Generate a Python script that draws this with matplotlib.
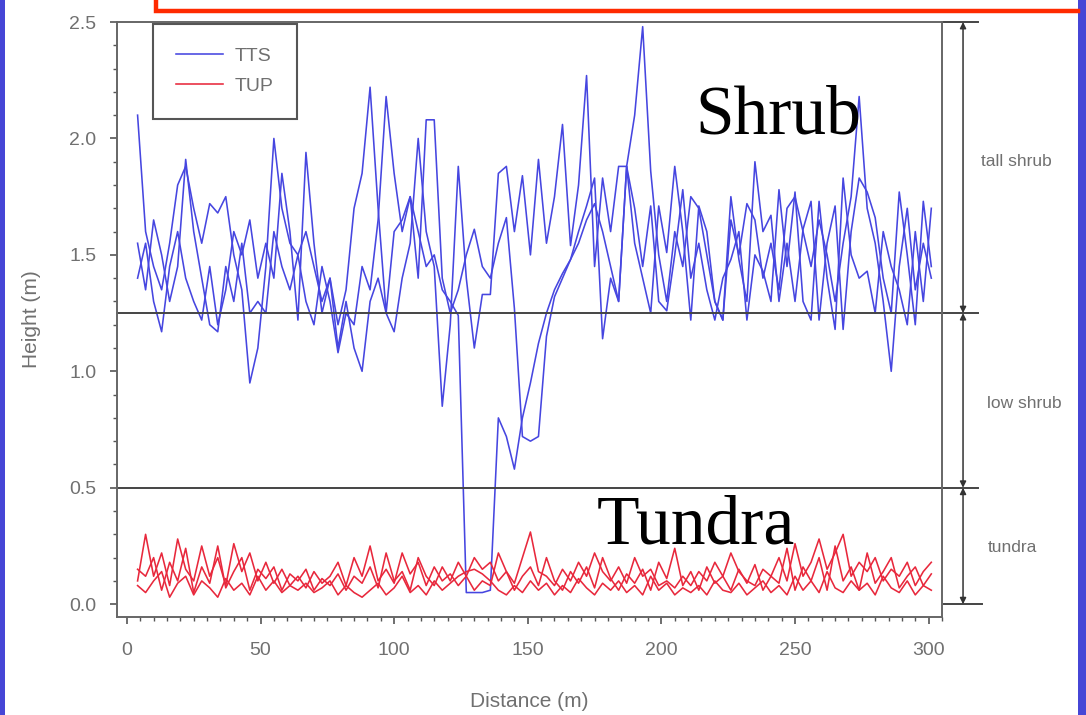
import numpy as np
import matplotlib
matplotlib.use("Agg")
import matplotlib.pyplot as plt
from matplotlib.lines import Line2D
from matplotlib.ticker import MultipleLocator
import matplotlib.transforms as mtransforms

# Sampling positions along the transects (m)
distance = np.arange(4, 302, 3)

# Tall-shrub transects (TTS), canopy height in m
tts_1 = [
    2.10, 1.60, 1.45, 1.35, 1.55, 1.80, 1.88, 1.70, 1.55, 1.72,
    1.68, 1.75, 1.50, 1.35, 0.95, 1.10, 1.45, 2.00, 1.70, 1.55,
    1.50, 1.60, 1.45, 1.30, 1.40, 1.20, 1.35, 1.70, 1.85, 2.22,
    1.70, 1.25, 1.60, 1.65, 1.75, 1.60, 1.45, 1.50, 1.35, 1.30,
    1.24, 0.05, 0.05, 0.05, 0.06, 0.80, 0.72, 0.58, 0.80, 0.95,
    1.12, 1.25, 1.35, 1.42, 1.48, 1.55, 1.65, 1.72, 1.60, 1.45,
    1.30, 1.88, 2.10, 2.48, 1.86, 1.50, 1.30, 1.60, 1.45, 1.75,
    1.70, 1.50, 1.30, 1.22, 1.65, 1.50, 1.72, 1.65, 1.40, 1.55,
    1.35, 1.70, 1.75, 1.60, 1.45, 1.65, 1.50, 1.30, 1.55, 1.75,
    2.18, 1.70, 1.55, 1.30, 1.00, 1.45, 1.70, 1.35, 1.55, 1.40,
]
tts_2 = [
    1.40, 1.55, 1.30, 1.17, 1.45, 1.60, 1.40, 1.30, 1.22, 1.45,
    1.20, 1.35, 1.60, 1.50, 1.65, 1.40, 1.55, 1.40, 1.85, 1.60,
    1.22, 1.94, 1.55, 1.25, 1.40, 1.10, 1.30, 1.10, 1.00, 1.30,
    1.40, 1.25, 1.17, 1.40, 1.55, 2.00, 1.60, 1.45, 0.85, 1.20,
    1.88, 1.40, 1.10, 1.33, 1.33, 1.85, 1.88, 1.60, 1.84, 1.50,
    1.91, 1.55, 1.75, 2.06, 1.54, 1.80, 2.27, 1.45, 1.83, 1.60,
    1.88, 1.88, 1.55, 1.40, 1.25, 1.71, 1.51, 1.88, 1.60, 1.22,
    1.71, 1.60, 1.30, 1.22, 1.75, 1.48, 1.30, 1.90, 1.60, 1.67,
    1.30, 1.55, 1.30, 1.61, 1.73, 1.22, 1.55, 1.71, 1.18, 1.60,
    1.83, 1.77, 1.66, 1.40, 1.25, 1.77, 1.50, 1.20, 1.73, 1.45,
]
tts_3 = [
    1.55, 1.35, 1.65, 1.50, 1.30, 1.45, 1.91, 1.60, 1.40, 1.20,
    1.17, 1.45, 1.30, 1.55, 1.25, 1.30, 1.25, 1.60, 1.45, 1.35,
    1.50, 1.30, 1.20, 1.45, 1.30, 1.08, 1.25, 1.20, 1.45, 1.35,
    1.65, 2.18, 1.85, 1.60, 1.75, 1.40, 2.08, 2.08, 1.40, 1.25,
    1.35, 1.50, 1.61, 1.45, 1.40, 1.55, 1.66, 1.27, 0.72, 0.70,
    0.72, 1.15, 1.32, 1.40, 1.48, 1.60, 1.71, 1.83, 1.14, 1.40,
    1.30, 1.88, 1.70, 1.45, 1.71, 1.30, 1.26, 1.50, 1.78, 1.40,
    1.55, 1.35, 1.22, 1.40, 1.48, 1.60, 1.22, 1.50, 1.43, 1.30,
    1.78, 1.45, 1.77, 1.30, 1.22, 1.73, 1.40, 1.18, 1.83, 1.50,
    1.40, 1.43, 1.25, 1.60, 1.45, 1.35, 1.20, 1.60, 1.30, 1.70,
]

# Tundra transects (TUP), canopy height in m
tup_1 = [
    0.10, 0.30, 0.12, 0.22, 0.08, 0.28, 0.15, 0.10, 0.25, 0.12,
    0.20, 0.08, 0.26, 0.14, 0.22, 0.10, 0.18, 0.09, 0.15, 0.08,
    0.12, 0.07, 0.14, 0.09, 0.12, 0.18, 0.08, 0.20, 0.12, 0.25,
    0.10, 0.15, 0.09, 0.22, 0.13, 0.18, 0.08, 0.16, 0.10, 0.13,
    0.08, 0.12, 0.20, 0.15, 0.18, 0.10, 0.14, 0.09, 0.20, 0.31,
    0.14, 0.12, 0.08, 0.15, 0.10, 0.18, 0.12, 0.22, 0.14, 0.10,
    0.16, 0.09, 0.20, 0.12, 0.15, 0.08, 0.10, 0.07, 0.12, 0.08,
    0.14, 0.10, 0.18, 0.12, 0.22, 0.14, 0.10, 0.08, 0.15, 0.12,
    0.20, 0.10, 0.26, 0.12, 0.18, 0.28, 0.15, 0.22, 0.30, 0.12,
    0.18, 0.14, 0.20, 0.10, 0.15, 0.12, 0.18, 0.08, 0.14, 0.18,
]
tup_2 = [
    0.15, 0.12, 0.20, 0.06, 0.18, 0.10, 0.24, 0.05, 0.16, 0.09,
    0.25, 0.07, 0.14, 0.20, 0.06, 0.15, 0.11, 0.16, 0.06, 0.13,
    0.10, 0.15, 0.06, 0.11, 0.08, 0.13, 0.06, 0.12, 0.09, 0.16,
    0.07, 0.22, 0.10, 0.14, 0.06, 0.20, 0.12, 0.08, 0.16, 0.10,
    0.18, 0.12, 0.06, 0.10, 0.08, 0.22, 0.14, 0.06, 0.12, 0.16,
    0.08, 0.20, 0.10, 0.06, 0.14, 0.09, 0.16, 0.07, 0.20, 0.11,
    0.06, 0.13, 0.09, 0.15, 0.06, 0.18, 0.11, 0.24, 0.08, 0.14,
    0.06, 0.16, 0.09, 0.12, 0.06, 0.15, 0.09, 0.17, 0.06, 0.12,
    0.09, 0.24, 0.06, 0.16, 0.10, 0.20, 0.06, 0.25, 0.10, 0.16,
    0.06, 0.22, 0.09, 0.14, 0.20, 0.07, 0.12, 0.16, 0.08, 0.13,
]
tup_3 = [
    0.08, 0.05, 0.10, 0.14, 0.03, 0.09, 0.12, 0.04, 0.10, 0.07,
    0.03, 0.11, 0.06, 0.09, 0.04, 0.12, 0.06, 0.10, 0.05, 0.08,
    0.06, 0.09, 0.05, 0.07, 0.10, 0.04, 0.08, 0.05, 0.03, 0.06,
    0.09, 0.04, 0.07, 0.12, 0.05, 0.08, 0.04, 0.10, 0.06, 0.09,
    0.12, 0.14, 0.15, 0.13, 0.10, 0.06, 0.04, 0.08, 0.05, 0.10,
    0.06, 0.09, 0.04, 0.08, 0.05, 0.11, 0.07, 0.04, 0.09, 0.06,
    0.10, 0.05, 0.08, 0.04, 0.12, 0.06, 0.09, 0.04, 0.07, 0.05,
    0.08, 0.04, 0.10, 0.06, 0.05, 0.09, 0.04, 0.07, 0.10, 0.05,
    0.08, 0.04, 0.12, 0.06, 0.10, 0.05, 0.14, 0.07, 0.05, 0.10,
    0.06, 0.09, 0.04, 0.12, 0.07, 0.05, 0.10, 0.04, 0.08, 0.06,
]

# Height classes and their boundaries (m)
class_bounds = [2.5, 1.25, 0.5, 0.0]
class_names = ["tall shrub", "low shrub", "tundra"]
class_label_y = [1.90, 0.86, 0.245]
class_label_x = [1.090, 1.100, 1.085]

W, H = 1086, 715
fig = plt.figure(figsize=(W / 100, H / 100), dpi=100)
fig.patch.set_facecolor("white")

# slide frame: blue side bars and the red box edge at the top
fig.add_artist(plt.Rectangle((0, 0), 5 / W, 1, transform=fig.transFigure,
                             color="#4646d6", lw=0))
fig.add_artist(plt.Rectangle((1078 / W, 0), 8 / W, 1, transform=fig.transFigure,
                             color="#4646d6", lw=0))
fig.add_artist(Line2D([156 / W, 156 / W, 1078 / W], [1, 1 - 11 / H, 1 - 11 / H],
                      transform=fig.transFigure, color="#ff2a00", lw=3.2,
                      solid_joinstyle="miter"))

ax = fig.add_axes([117 / W, 1 - 617 / H, 825 / W, 595 / H])

gray_txt = "#707070"
sans = "Liberation Sans"

line_kw = dict(lw=1.15)
blue = "#4646e0"
red = "#e8283c"
ax.plot(distance, tts_1, color=blue, label="TTS", **line_kw)
ax.plot(distance, tts_2, color=blue, **line_kw)
ax.plot(distance, tts_3, color=blue, **line_kw)
ax.plot(distance, tup_1, color=red, label="TUP", **line_kw)
ax.plot(distance, tup_2, color=red, **line_kw)
ax.plot(distance, tup_3, color=red, **line_kw)

ax.set_xlim(-3.7, 305)
ax.set_ylim(-0.055, 2.5)
ax.set_xticks(np.arange(0, 301, 50))
ax.set_yticks([0.0, 0.5, 1.0, 1.5, 2.0, 2.5])
ax.xaxis.set_minor_locator(MultipleLocator(5))
ax.yaxis.set_minor_locator(MultipleLocator(0.1))
ax.set_yticklabels(["0.0", "0.5", "1.0", "1.5", "2.0", "2.5"])

for s in ax.spines.values():
    s.set_color("#666666")
    s.set_linewidth(1.4)
ax.tick_params(which="major", direction="out", length=5, width=1.2,
               color="#555555", labelcolor=gray_txt, labelsize=14)
ax.tick_params(axis="x", which="major", pad=13)
ax.tick_params(axis="y", which="major", pad=10)
ax.tick_params(which="minor", direction="out", length=3, width=1.0, color="#555555")
for lab in ax.get_xticklabels() + ax.get_yticklabels():
    lab.set_family(sans)

ax.set_xlabel("Distance (m)", fontsize=15, color=gray_txt, family=sans, labelpad=24)
ax.set_ylabel("Height (m)", fontsize=15, color=gray_txt, family=sans, labelpad=20)

# class boundaries and the bracket on the right
blend = mtransforms.blended_transform_factory(ax.transAxes, ax.transData)
for yb in class_bounds[1:3]:
    ax.plot([0, 1.044], [yb, yb], color="#444444", lw=1.4, transform=blend,
            clip_on=False)
ax.plot([1.003, 1.044], [class_bounds[0]] * 2, color="#444444", lw=1.4,
        transform=blend, clip_on=False)
ax.plot([1.003, 1.048], [class_bounds[3]] * 2, color="#444444", lw=1.4,
        transform=blend, clip_on=False)
xa = 1.0255
for top, bot, name, lx, ly in zip(class_bounds[:-1], class_bounds[1:], class_names,
                                  class_label_x, class_label_y):
    ax.annotate("", xy=(xa, top), xytext=(xa, bot), xycoords=blend,
                textcoords=blend, annotation_clip=False,
                arrowprops=dict(arrowstyle="<|-|>", color="#333333", lw=1.1,
                                mutation_scale=9, shrinkA=0, shrinkB=0))
    ax.text(lx, ly, name, transform=blend, ha="center", va="center",
            fontsize=12.5, color=gray_txt, family=sans)

leg = ax.legend(loc="upper left", bbox_to_anchor=(0.0436, 0.9966),
                borderaxespad=0, fancybox=False, framealpha=1,
                edgecolor="#555555", handlelength=2.4, handletextpad=0.6,
                borderpad=1.2, labelspacing=0.65,
                prop={"family": sans, "size": 14})
leg.get_frame().set_linewidth(1.5)
for t in leg.get_texts():
    t.set_color(gray_txt)

# region captions
fig.text(695 / W, 1 - 133 / H, "Shrub", family="Liberation Serif", fontsize=50,
         ha="left", va="baseline", color="black")
fig.text(597 / W, 1 - 543 / H, "Tundra", family="Liberation Serif", fontsize=50,
         ha="left", va="baseline", color="black")

fig.savefig("out.png", dpi=100)
